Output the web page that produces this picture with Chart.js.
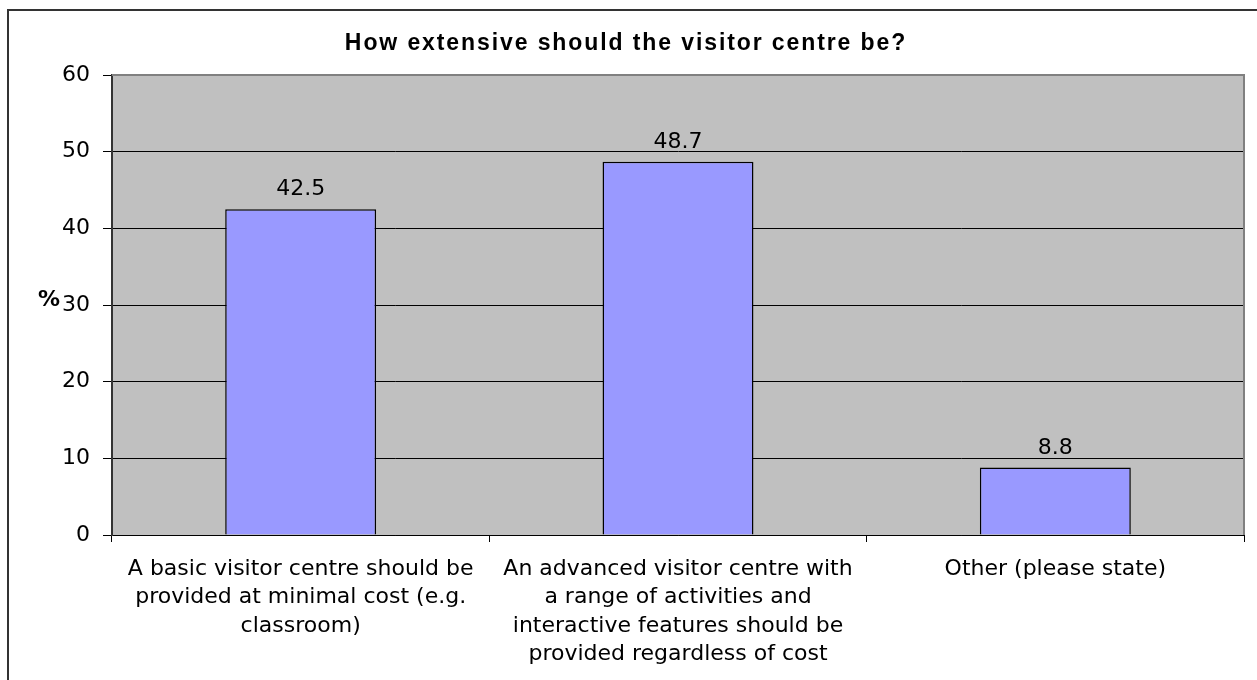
<!DOCTYPE html>
<html lang="en">
<head>
    <meta charset="UTF-8">
    <title>Visitor centre</title>
    <script src="https://cdn.jsdelivr.net/npm/chart.js"></script>
    <style>
        body {
            margin: 0;
            background: #ffffff;
        }
        #wrap {
            width: 1257px;
            height: 680px;
        }
    </style>
</head>
<body>
<div id="wrap">
    <canvas id="chart"></canvas>
</div>

<script>
    const chartTitle = 'How extensive should the visitor centre be?';
    const axisLabel = '%';
    const categories = [
        ['A basic visitor centre should be', 'provided at minimal cost (e.g.', 'classroom)'],
        ['An advanced visitor centre with', 'a range of activities and', 'interactive features should be', 'provided regardless of cost'],
        ['Other (please state)']
    ];
    const percentages = [42.5, 48.7, 8.8];
    const yMin = 0;
    const yMax = 60;
    const yStep = 10;

    const fontFamily = "'DejaVu Sans', sans-serif";

    // frame, grey plot background, title, % label and value labels
    const decorations = {
        id: 'decorations',
        beforeDraw(chart) {
            const c = chart.ctx;
            const a = chart.chartArea;
            c.save();
            c.strokeStyle = '#333333';
            c.lineWidth = 2;
            c.strokeRect(8, 10, 1400, 800);
            c.fillStyle = '#c0c0c0';
            c.fillRect(a.left, a.top, a.right - a.left, a.bottom - a.top);
            c.restore();
        },
        afterDraw(chart) {
            const c = chart.ctx;
            const a = chart.chartArea;
            c.save();
            // plot border top / right
            c.strokeStyle = '#808080';
            c.lineWidth = 2;
            c.beginPath();
            c.moveTo(a.left, a.top);
            c.lineTo(a.right, a.top);
            c.lineTo(a.right, a.bottom);
            c.stroke();

            // title
            c.fillStyle = '#000000';
            c.font = "bold 23px 'Liberation Sans', Arial, sans-serif";
            c.letterSpacing = '1.9px';
            c.textBaseline = 'alphabetic';
            c.textAlign = 'left';
            const w = c.measureText(chartTitle).width;
            c.fillText(chartTitle, 626 - w / 2, 50);
            c.letterSpacing = '0px';

            // axis label
            c.font = "bold 22px " + fontFamily;
            c.textAlign = 'center';
            const yScale = chart.scales.y;
            c.fillText(axisLabel, 49, yScale.getPixelForValue(30) + 1);

            // value labels
            c.font = "22px " + fontFamily;
            const meta = chart.getDatasetMeta(0);
            meta.data.forEach((bar, i) => {
                c.fillText(percentages[i].toFixed(1), bar.x, bar.y - 14);
            });
            c.restore();
        }
    };

    new Chart(document.getElementById('chart'), {
        type: 'bar',
        data: {
            labels: categories,
            datasets: [{
                data: percentages,
                backgroundColor: '#9999ff',
                borderColor: '#000000',
                borderWidth: 1.5,
                categoryPercentage: 1.0,
                barPercentage: 0.4
            }]
        },
        options: {
            responsive: true,
            maintainAspectRatio: false,
            animation: false,
            layout: {
                padding: { top: 75, right: 13, left: 0, bottom: 0 }
            },
            plugins: {
                legend: { display: false },
                title: { display: false },
                tooltip: { enabled: false }
            },
            scales: {
                x: {
                    afterFit(scale) { scale.height = 145; },
                    grid: {
                        offset: true,
                        drawOnChartArea: false,
                        drawTicks: true,
                        tickLength: 7,
                        color: '#000000'
                    },
                    border: { display: true, color: '#000000', width: 1 },
                    ticks: {
                        color: '#000000',
                        padding: 13,
                        maxRotation: 0,
                        autoSkip: false,
                        font: { family: fontFamily, size: 22, lineHeight: 1.29 }
                    }
                },
                y: {
                    min: yMin,
                    max: yMax,
                    afterFit(scale) { scale.width = 112; },
                    grid: {
                        color: '#000000',
                        lineWidth: 1,
                        tickLength: 9
                    },
                    border: { display: true, color: '#333333', width: 2 },
                    ticks: {
                        stepSize: yStep,
                        color: '#000000',
                        padding: 13,
                        font: { family: fontFamily, size: 22 }
                    }
                }
            }
        },
        plugins: [decorations]
    });
</script>
</body>
</html>
